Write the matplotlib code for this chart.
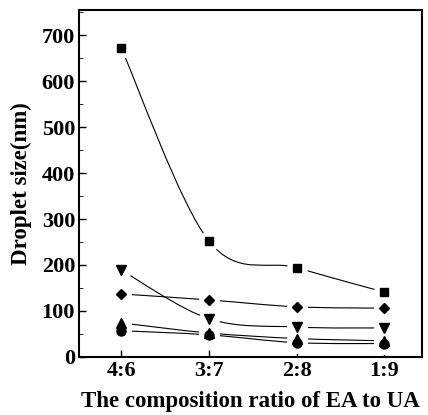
import numpy as np
import matplotlib.pyplot as plt
from matplotlib.path import Path
from matplotlib.patches import PathPatch
from matplotlib.ticker import MultipleLocator

plt.rcParams['font.family'] = ['Liberation Serif', 'DejaVu Serif']
plt.rcParams['font.weight'] = 'bold'

# Data
ratios = ["4:6", "3:7", "2:8", "1:9"]
x = [1, 2, 3, 4]
size_square = [672, 252, 194, 141]
size_diamond = [137, 124, 109, 106]
size_down = [189, 83, 65, 63]
size_up = [74, 52, 40, 35]
size_circle = [57, 48, 31, 29]

series = [
    (size_square, "s", 5.5),
    (size_diamond, "D", 5),
    (size_down, "v", 7),
    (size_up, "^", 7),
    (size_circle, "o", 6.5),
]


def smooth_path(xs, ys):
    # Catmull-Rom style bezier through the points
    pts = np.column_stack([xs, ys]).astype(float)
    n = len(pts)
    verts = [pts[0]]
    codes = [Path.MOVETO]
    for i in range(n - 1):
        p0 = pts[max(i - 1, 0)]
        p1 = pts[i]
        p2 = pts[i + 1]
        p3 = pts[min(i + 2, n - 1)]
        c1 = p1 + (p2 - p0) / 6
        c2 = p2 - (p3 - p1) / 6
        verts += [c1, c2, p2]
        codes += [Path.CURVE4] * 3
    return Path(verts, codes)


fig = plt.figure(figsize=(4.28, 4.15), dpi=100)
ax = fig.add_axes([0.185, 0.14, 0.801, 0.836])

for ys, m, ms in series:
    ax.add_patch(PathPatch(smooth_path(x, ys), fill=False, lw=0.8,
                           edgecolor="black", zorder=1))
for ys, m, ms in series:
    ax.plot(x, ys, ls="none", marker="o", ms=15, mfc="white", mec="none", zorder=2)
for ys, m, ms in series:
    ax.plot(x, ys, ls="none", marker=m, ms=ms, color="black", zorder=3)

ax.set_xlim(0.52, 4.43)
ax.set_ylim(0, 755)
ax.set_xticks(x)
ax.set_xticklabels(ratios)
ax.yaxis.set_major_locator(MultipleLocator(100))
ax.yaxis.set_minor_locator(MultipleLocator(50))
ax.tick_params(direction="in", labelsize=16, width=1, length=5)
ax.tick_params(which="minor", direction="in", length=3)
ax.tick_params(axis="x", pad=3)
ax.tick_params(axis="y", pad=3)
for s in ax.spines.values():
    s.set_linewidth(1.5)

ax.set_xlabel("The composition ratio of EA to UA", fontsize=16.5, fontweight="bold", labelpad=7)
ax.set_ylabel("Droplet size(nm)", fontsize=16.5, fontweight="bold", labelpad=7)

fig.savefig("out.png", dpi=100)
